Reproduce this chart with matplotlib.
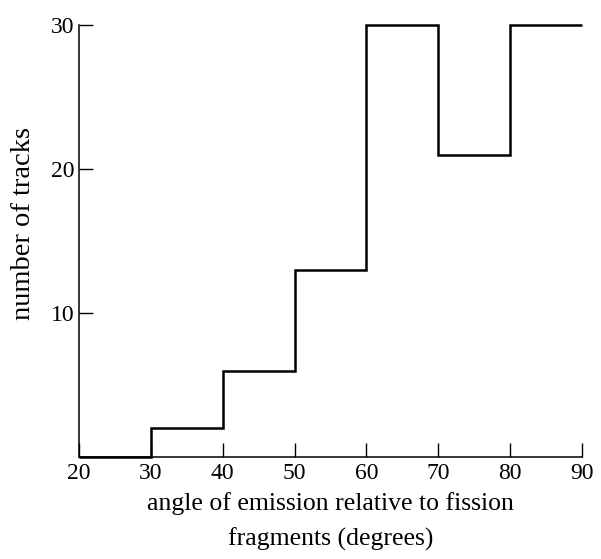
import matplotlib.pyplot as plt

# histogram of emission angles
bin_edges = [20, 30, 40, 50, 60, 70, 80, 90]
track_counts = [0, 2, 6, 13, 30, 21, 30]
x_ticks = [20, 30, 40, 50, 60, 70, 80, 90]
y_ticks = [10, 20, 30]

plt.rcParams['font.family'] = ['Liberation Serif', 'DejaVu Serif']

fig = plt.figure(figsize=(6.01, 5.59), dpi=100)
ax = fig.add_axes([0.1314, 0.1825, 0.837, 0.7728])

ax.stairs(track_counts, bin_edges, baseline=None, color='black',
          linewidth=1.8, clip_on=False)

ax.set_xlim(20, 90)
ax.set_ylim(0, 30)
ax.spines['top'].set_visible(False)
ax.spines['right'].set_visible(False)
for s in ('left', 'bottom'):
    ax.spines[s].set_linewidth(1.1)

ax.set_xticks(x_ticks)
ax.set_yticks(y_ticks)
ax.tick_params(direction='in', length=10, width=1.0, labelsize=17, pad=4)
ax.tick_params(axis='y', pad=3)

ax.set_xlabel('angle of emission relative to fission\nfragments (degrees)',
              fontsize=18.5, linespacing=1.7, labelpad=6)
ax.set_ylabel('number of tracks', fontsize=20.5)
ax.yaxis.set_label_coords(-0.085, 0.54)

fig.savefig('out.png', dpi=100)
